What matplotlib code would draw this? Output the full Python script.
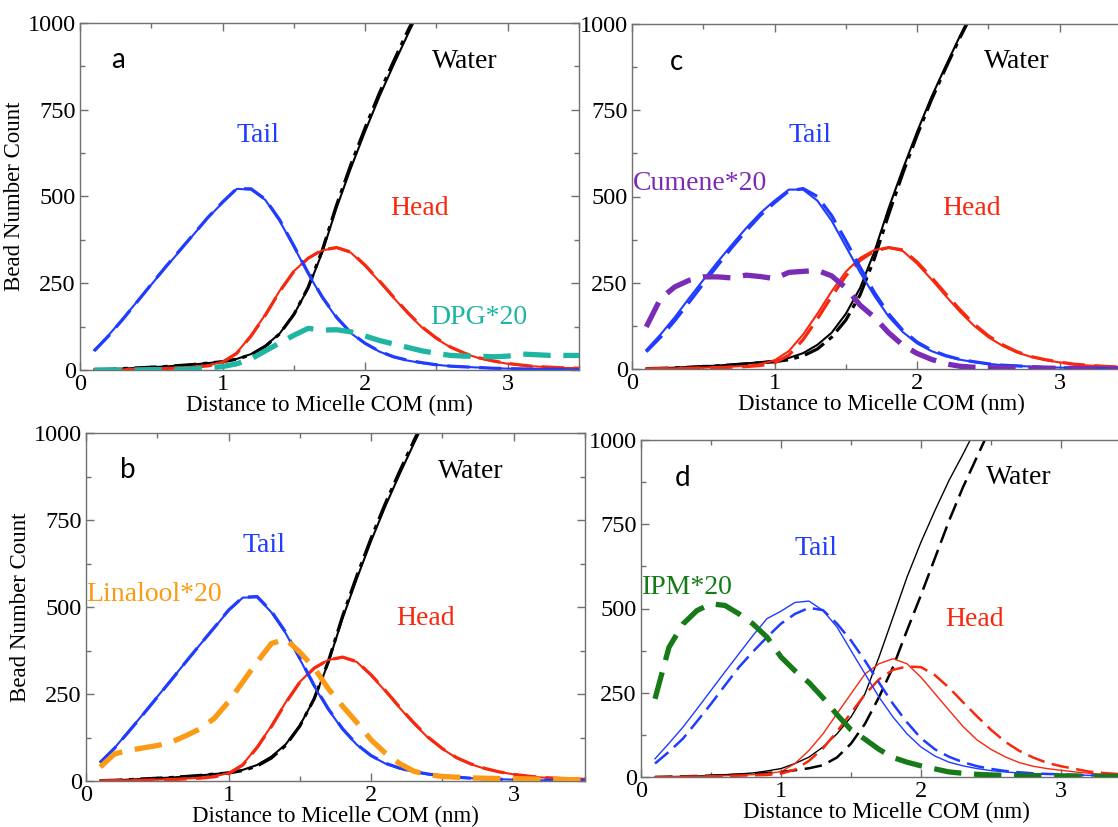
import matplotlib
matplotlib.use("Agg")
import matplotlib.pyplot as plt
from matplotlib.ticker import MultipleLocator

# radial grid (nm) shared by every profile
dist = [0.1, 0.2, 0.3, 0.4, 0.5, 0.6, 0.7, 0.8, 0.9, 1.0,
        1.1, 1.2, 1.3, 1.4, 1.5, 1.6, 1.7, 1.8, 1.9, 2.0,
        2.1, 2.2, 2.3, 2.4, 2.5, 2.6, 2.7, 2.8, 2.9, 3.0,
        3.1, 3.2, 3.3, 3.4, 3.5]

# ---- panel a : DPG ----
tail_a = [57, 100, 148, 197, 246, 295, 343, 392, 440, 482, 522, 520, 490, 430, 355, 278, 208, 150, 106, 76,
          53, 37, 27, 20, 15, 11, 9, 7, 5, 4, 3, 3, 2, 2, 1]
tail_a_ref = [55, 98, 146, 196, 247, 297, 345, 393, 441, 484, 523, 522, 492, 433, 358, 280, 210, 152, 107, 77,
              54, 38, 28, 21, 15, 11, 9, 7, 5, 4, 3, 3, 2, 2, 1]
head_a = [1, 1, 2, 3, 4, 5, 7, 9, 13, 24, 50, 100, 160, 228, 285, 322, 345, 352, 338, 300,
          255, 208, 163, 122, 90, 65, 47, 34, 25, 18, 13, 10, 8, 6, 5]
head_a_ref = [0, 1, 1, 2, 3, 4, 6, 8, 12, 22, 48, 98, 158, 226, 284, 322, 346, 353, 340, 302,
              257, 210, 165, 124, 92, 66, 48, 35, 26, 19, 14, 10, 8, 6, 5]
water_a = [1, 2, 4, 6, 8, 10, 13, 16, 20, 24, 32, 46, 70, 105, 160, 235, 340, 468, 582, 688,
           788, 880, 968, 1052, 1130]
water_a_ref = [1, 2, 4, 6, 8, 10, 13, 16, 20, 24, 31, 44, 68, 104, 160, 238, 346, 476, 592, 698,
               798, 890, 978, 1062, 1140]
dpg = [0, 0, 0, 0, 1, 1, 2, 3, 6, 10, 18, 32, 55, 78, 100, 120, 115, 116, 110, 98,
       85, 75, 65, 55, 48, 42, 40, 40, 38, 40, 46, 44, 42, 42, 42]

# ---- panel b : Linalool ----
tail_b = [55, 95, 143, 192, 242, 292, 342, 392, 440, 490, 527, 528, 485, 425, 350, 272, 205, 148, 104, 72,
          50, 36, 26, 19, 14, 11, 8, 6, 5, 4, 3, 2, 2, 2, 1]
tail_b_ref = [53, 94, 142, 191, 241, 291, 342, 392, 441, 491, 528, 530, 488, 428, 353, 275, 207, 150, 105, 73,
              51, 37, 27, 20, 14, 11, 8, 6, 5, 4, 3, 2, 2, 2, 1]
head_b = [1, 1, 2, 3, 4, 5, 7, 9, 13, 23, 48, 98, 158, 226, 285, 325, 348, 355, 342, 303,
          258, 210, 165, 124, 92, 66, 48, 35, 26, 19, 14, 10, 8, 6, 5]
head_b_ref = [0, 1, 1, 2, 3, 4, 6, 8, 12, 21, 46, 96, 156, 224, 284, 324, 348, 356, 343, 305,
              260, 212, 167, 126, 93, 67, 49, 36, 26, 19, 14, 10, 8, 6, 5]
water_b = [1, 2, 4, 6, 8, 10, 13, 16, 20, 24, 32, 46, 70, 105, 160, 235, 340, 468, 582, 690,
           790, 882, 970, 1055, 1132]
water_b_ref = [1, 2, 4, 6, 8, 10, 13, 16, 20, 23, 30, 43, 66, 102, 158, 236, 344, 474, 590, 698,
               798, 890, 978, 1062, 1140]
linalool = [40, 78, 88, 95, 102, 112, 130, 150, 180, 228, 285, 342, 395, 408, 370, 325, 265, 215, 168, 118,
            80, 50, 28, 18, 13, 11, 9, 8, 7, 7, 6, 5, 5, 4, 4]

# ---- panel c : Cumene ----
tail_c = [55, 100, 150, 205, 258, 310, 360, 408, 452, 488, 520, 520, 488, 430, 355, 280, 212, 152, 107, 74,
          52, 37, 27, 20, 15, 11, 9, 7, 5, 4, 3, 3, 2, 2, 1]
tail_c_ref = [50, 92, 140, 193, 247, 300, 352, 400, 445, 482, 516, 523, 500, 445, 372, 295, 222, 160, 112, 78,
              55, 39, 28, 21, 15, 11, 9, 7, 5, 4, 3, 3, 2, 2, 1]
head_c = [1, 1, 2, 3, 4, 5, 7, 9, 14, 25, 52, 100, 160, 225, 282, 322, 345, 352, 342, 305,
          260, 212, 166, 125, 92, 67, 48, 35, 26, 19, 14, 10, 8, 6, 5]
head_c_ref = [0, 1, 1, 2, 3, 4, 5, 7, 10, 18, 40, 85, 145, 210, 270, 315, 342, 352, 345, 310,
              266, 218, 172, 130, 96, 70, 50, 36, 27, 20, 14, 11, 8, 6, 5]
water_c = [1, 2, 4, 6, 8, 10, 13, 16, 20, 24, 32, 46, 70, 105, 160, 235, 340, 466, 580, 688,
           788, 878, 965, 1048, 1128]
water_c_ref = [1, 2, 3, 5, 7, 9, 12, 15, 18, 21, 27, 38, 58, 92, 142, 215, 320, 448, 568, 678,
               780, 872, 960, 1042, 1122]
cumene = [122, 204, 238, 257, 267, 267, 264, 272, 268, 262, 280, 283, 286, 270, 235, 185, 150, 105, 69, 45,
          28, 15, 8, 5, 4, 3, 3, 2, 2, 2, 2, 1, 1, 1, 1]

# ---- panel d : IPM ----
tail_d = [54, 100, 148, 202, 257, 312, 366, 420, 470, 492, 518, 522, 494, 445, 375, 306, 237, 178, 128, 89,
          62, 44, 33, 25, 19, 15, 12, 10, 9, 8, 6, 5, 4, 4, 3]
tail_d_ref = [40, 75, 114, 165, 217, 272, 326, 372, 415, 455, 484, 502, 495, 455, 405, 345, 280, 217, 162, 115,
              82, 60, 44, 32, 24, 18, 14, 11, 9, 8, 6, 5, 4, 4, 3]
head_d = [0, 1, 1, 2, 3, 4, 5, 7, 10, 16, 40, 79, 128, 188, 247, 306, 336, 351, 336, 296,
          247, 198, 150, 110, 82, 60, 43, 32, 25, 20, 15, 11, 8, 6, 5]
head_d_ref = [0, 0, 1, 1, 2, 3, 4, 5, 6, 10, 22, 48, 85, 135, 190, 245, 290, 318, 328, 326,
              302, 265, 222, 180, 140, 105, 78, 58, 42, 32, 24, 16, 12, 9, 7]
water_d = [0, 1, 2, 3, 5, 7, 9, 12, 18, 25, 40, 59, 89, 128, 178, 247, 356, 474, 593, 697,
           791, 880, 958, 1040]
water_d_ref = [0, 1, 2, 3, 4, 5, 7, 9, 12, 15, 20, 26, 35, 58, 99, 158, 237, 326, 435, 540,
               650, 760, 860, 950, 1040]
ipm = [232, 385, 454, 494, 514, 509, 484, 454, 415, 356, 315, 280, 235, 185, 140, 112, 82, 58, 44, 33,
       24, 15, 11, 8, 6, 5, 4, 4, 3, 3, 3, 2, 2, 2, 2]

BLUE = "#1f3cff"
RED = "#f8280f"
BLACK = "#000000"
SERIF = "Liberation Serif"
SANS = "Lato"

plt.rcParams["font.family"] = SERIF

FIG_W, FIG_H = 1118, 827
fig = plt.figure(figsize=(FIG_W / 100, FIG_H / 100), dpi=100)


def px_axes(left, top, width, height):
    return fig.add_axes([left / FIG_W, 1 - (top + height) / FIG_H,
                         width / FIG_W, height / FIG_H])


def style_axes(ax, ylabel):
    ax.set_xlim(0, 3.5)
    ax.set_ylim(0, 1000)
    ax.xaxis.set_major_locator(MultipleLocator(1))
    ax.xaxis.set_minor_locator(MultipleLocator(0.5))
    ax.yaxis.set_major_locator(MultipleLocator(250))
    ax.yaxis.set_minor_locator(MultipleLocator(125))
    ax.tick_params(which="both", direction="in", top=True, right=True,
                   color="#707070", width=1.0)
    ax.tick_params(which="major", length=6, pad=3, labelsize=17.5)
    ax.tick_params(which="minor", length=3.5)
    for sp in ax.spines.values():
        sp.set_color("#707070")
        sp.set_linewidth(1.0)
    ax.set_xlabel("Distance to Micelle COM (nm)", fontsize=16.5, labelpad=0)
    if ylabel:
        ax.set_ylabel("Bead Number Count", fontsize=16.5, labelpad=2)


def draw_panel(ax, tail, tail_ref, head, head_ref, water, water_ref,
               additive, add_color, add_label, add_pos, letter, letter_pos,
               thin=False, ylabel=True):
    lw_s = 1.0 if thin else 1.5
    lw_d = 1.8 if thin else 2.3
    dash = (0, (7, 3))
    wdash = (0, (7, 3)) if thin else (0, (7, 2, 1.5, 2))
    ax.plot(dist[:len(water_ref)], water_ref, color=BLACK, lw=lw_d, ls=wdash)
    ax.plot(dist[:len(water)], water, color=BLACK, lw=lw_s)
    ax.plot(dist, head_ref, color=RED, lw=lw_d, ls=dash)
    ax.plot(dist, head, color=RED, lw=lw_s)
    ax.plot(dist, tail_ref, color=BLUE, lw=lw_d, ls=dash)
    ax.plot(dist, tail, color=BLUE, lw=lw_s)
    ax.plot(dist, additive, color=add_color, lw=3.8, ls=(0, (5.2, 2.4)),
            zorder=5)
    style_axes(ax, ylabel)
    ax.text(*letter_pos, letter, fontsize=20, family=SANS, ha="center",
            va="center")
    ax.text(2.70, 890, "Water", fontsize=20, color=BLACK,
            ha="center", va="center")
    ax.text(1.25, 677, "Tail", fontsize=20, color=BLUE,
            ha="center", va="center")
    ax.text(2.38, 466, "Head", fontsize=20, color=RED,
            ha="center", va="center")
    ax.text(*add_pos, add_label, fontsize=20, color=add_color,
            ha="center", va="center")


ax_a = px_axes(80, 23, 499, 347)
draw_panel(ax_a, tail_a, tail_a_ref, head_a, head_a_ref, water_a, water_a_ref,
           dpg, "#1fb5a3", "DPG*20", (2.80, 150), "a", (0.27, 893))

ax_b = px_axes(86, 433, 499, 348)
draw_panel(ax_b, tail_b, tail_b_ref, head_b, head_b_ref, water_b, water_b_ref,
           linalool, "#fb9a14", "Linalool*20", (0.48, 535), "b", (0.29, 893))

ax_c = px_axes(632, 24, 499, 345)
draw_panel(ax_c, tail_c, tail_c_ref, head_c, head_c_ref, water_c, water_c_ref,
           cumene, "#7b2cb6", "Cumene*20", (0.48, 537), "c", (0.31, 890),
           ylabel=False)

ax_d = px_axes(641, 440, 490, 337)
draw_panel(ax_d, tail_d, tail_d_ref, head_d, head_d_ref, water_d, water_d_ref,
           ipm, "#177a18", "IPM*20", (0.33, 563), "d", (0.30, 886),
           thin=True, ylabel=False)

fig.savefig("out.png", dpi=100)
